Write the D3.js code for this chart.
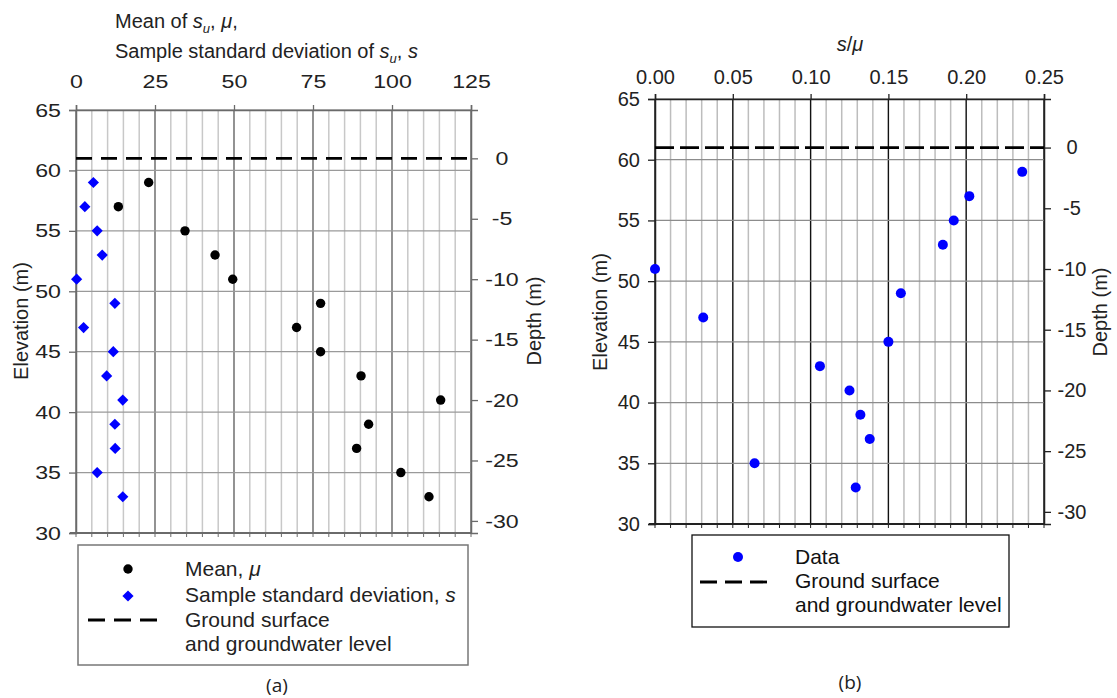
<!DOCTYPE html>
<html>
<head>
<meta charset="utf-8">
<script src="https://cdn.jsdelivr.net/npm/d3@7"></script>
<style>
  body { margin: 0; background: #fff; }
  svg text { font-family: "Liberation Sans", Arial, sans-serif; }
</style>
</head>
<body>
<svg id="chart" width="1117" height="698"></svg>
<script>
// data
const elevation = [59, 57, 55, 53, 51, 49, 47, 45, 43, 41, 39, 37, 35, 33];
const meanSu = [23, 13.4, 34.5, 44, 49.6, 77.4, 69.8, 77.4, 90.2, 115.4, 92.6, 88.8, 102.8, 111.7];
const stdSu = [5.5, 2.8, 6.7, 8.3, 0.2, 12.3, 2.4, 11.8, 9.7, 14.8, 12.3, 12.4, 6.7, 14.8];
const ratio = [0.236, 0.202, 0.192, 0.185, 0.0, 0.158, 0.031, 0.150, 0.106, 0.125, 0.132, 0.138, 0.064, 0.129];
const groundLevel = 61;

const suTicks = [0, 25, 50, 75, 100, 125];
const ratioTicks = [0, 0.05, 0.10, 0.15, 0.20, 0.25];
const elevTicks = [30, 35, 40, 45, 50, 55, 60, 65];
const depthTicks = [0, -5, -10, -15, -20, -25, -30];

const svg = d3.select("#chart");

// draws one panel: grid, axes, ground line
function panel(opt) {
    const g = svg.append("g");
    const x = opt.x, y = opt.y;
    const [x0, x1] = x.range();
    const [yb, yt] = y.range();
    const sx = opt.stretch; // tick labels of panel (a) look horizontally stretched
    const depth = d3.scaleLinear()
        .domain([y.domain()[0] - groundLevel, y.domain()[1] - groundLevel])
        .range(y.range());

    // vertical minor grid
    g.append("g").selectAll("line")
        .data(opt.minor)
        .join("line")
        .attr("x1", d => x(d)).attr("x2", d => x(d))
        .attr("y1", yt).attr("y2", yb)
        .attr("stroke", opt.minorColor)
        .attr("stroke-width", 1.5);

    // vertical major grid
    g.append("g").selectAll("line")
        .data(opt.xTicks)
        .join("line")
        .attr("x1", d => x(d)).attr("x2", d => x(d))
        .attr("y1", yt).attr("y2", yb)
        .attr("stroke", opt.majorColor)
        .attr("stroke-width", 1.3);

    // horizontal grid
    g.append("g").selectAll("line")
        .data(elevTicks)
        .join("line")
        .attr("x1", x0).attr("x2", x1)
        .attr("y1", d => y(d)).attr("y2", d => y(d))
        .attr("stroke", opt.hColor)
        .attr("stroke-width", 1.3);

    // small ticks along the bottom
    g.append("g").selectAll("line")
        .data(opt.minor)
        .join("line")
        .attr("x1", d => x(d)).attr("x2", d => x(d))
        .attr("y1", yb).attr("y2", yb + 4)
        .attr("stroke", opt.frameColor);

    // top axis
    const top = g.append("g")
        .attr("transform", `translate(0,${yt})`)
        .call(d3.axisTop(x).tickValues(opt.xTicks).tickSize(5).tickPadding(opt.topPad).tickFormat(opt.fmt));
    top.attr("font-family", null);
    top.select(".domain").attr("stroke", opt.frameColor).attr("stroke-width", 1.5);
    top.selectAll(".tick line").attr("stroke", opt.frameColor).attr("stroke-width", 1.3);
    top.selectAll("text").attr("font-size", opt.fs).attr("fill", "#222")
        .attr("transform", `scale(${sx},1)`);

    // bottom line
    g.append("line")
        .attr("x1", x0 - 6).attr("x2", x1)
        .attr("y1", yb).attr("y2", yb)
        .attr("stroke", opt.frameColor).attr("stroke-width", 2);

    // left axis elevation
    const left = g.append("g")
        .attr("transform", `translate(${x0},0)`)
        .call(d3.axisLeft(y).tickValues(elevTicks).tickSize(7).tickFormat(d => String(d)));
    left.attr("font-family", null);
    left.select(".domain").attr("stroke", opt.frameColor).attr("stroke-width", 1.5);
    left.selectAll(".tick line").attr("stroke", opt.frameColor).attr("stroke-width", 1.3);
    left.selectAll("text").attr("font-size", opt.fs).attr("fill", "#222")
        .attr("x", -15 / sx).attr("transform", `scale(${sx},1)`);

    // right axis depth (plain hyphen for the minus sign, as in the original)
    const right = g.append("g")
        .attr("transform", `translate(${x1},0)`)
        .call(d3.axisRight(depth).tickValues(depthTicks).tickSize(7).tickFormat(d => String(d)));
    right.attr("font-family", null);
    right.select(".domain").attr("stroke", opt.frameColor).attr("stroke-width", 1.5);
    right.selectAll(".tick line").attr("stroke", opt.frameColor).attr("stroke-width", 1.3);
    right.selectAll("text").attr("font-size", opt.fs).attr("fill", "#222")
        .attr("text-anchor", "middle").attr("x", opt.depthLabelDx / sx)
        .attr("transform", `scale(${sx},1)`);

    // ground surface / groundwater level
    g.append("line")
        .attr("x1", x0).attr("x2", x1)
        .attr("y1", y(groundLevel)).attr("y2", y(groundLevel))
        .attr("stroke", "#000").attr("stroke-width", 2.8)
        .attr("stroke-dasharray", opt.dash);

    // axis titles
    g.append("text")
        .attr("transform", `translate(${opt.elevTitleX},${opt.titleY}) rotate(-90)`)
        .attr("text-anchor", "middle")
        .attr("font-size", 20).attr("fill", "#222")
        .text("Elevation (m)");
    g.append("text")
        .attr("transform", `translate(${opt.depthTitleX},${opt.titleY}) rotate(-90)`)
        .attr("text-anchor", "middle")
        .attr("font-size", 20).attr("fill", "#222")
        .text("Depth (m)");

    return g;
}

// ---------- panel (a) ----------
const xa = d3.scaleLinear().domain([0, 125]).range([76, 471]);
const ya = d3.scaleLinear().domain([30, 65]).range([533, 110]);

const ga = panel({
    x: xa, y: ya,
    xTicks: suTicks,
    minor: d3.range(0, 126, 5),
    fmt: d3.format("d"),
    minorColor: "#c8c8c8", majorColor: "#6e6e6e", hColor: "#9a9a9a", frameColor: "#6a6a6a",
    dash: "16,9",
    fs: 19, stretch: 1.22, topPad: 17,
    depthLabelDx: 31,
    elevTitleX: 28, depthTitleX: 541, titleY: 321
});

const ptsA = elevation.map((e, i) => ({ e, m: meanSu[i], s: stdSu[i] }));

ga.append("g").selectAll("circle")
    .data(ptsA)
    .join("circle")
    .attr("cx", d => xa(d.m))
    .attr("cy", d => ya(d.e))
    .attr("r", 4.7)
    .attr("fill", "#000");

const diamond = d3.symbol().type(d3.symbolDiamond2).size(80);
ga.append("g").selectAll("path")
    .data(ptsA)
    .join("path")
    .attr("transform", d => `translate(${xa(d.s)},${ya(d.e)})`)
    .attr("d", diamond)
    .attr("fill", "#0000ff");

// title of panel (a)
const ta = svg.append("text").attr("x", 115).attr("y", 28).attr("font-size", 20).attr("fill", "#222");
ta.append("tspan").text("Mean of ");
ta.append("tspan").attr("font-style", "italic").text("s");
ta.append("tspan").attr("font-style", "italic").attr("font-size", 13).attr("dy", 5).text("u");
ta.append("tspan").attr("dy", -5).text(", ");
ta.append("tspan").attr("font-style", "italic").text("μ");
ta.append("tspan").text(",");

const tb = svg.append("text").attr("x", 115).attr("y", 58).attr("font-size", 20).attr("fill", "#222");
tb.append("tspan").text("Sample standard deviation of ");
tb.append("tspan").attr("font-style", "italic").text("s");
tb.append("tspan").attr("font-style", "italic").attr("font-size", 13).attr("dy", 5).text("u");
tb.append("tspan").attr("dy", -5).text(", ");
tb.append("tspan").attr("font-style", "italic").text("s");

// legend (a)
const la = svg.append("g");
la.append("rect")
    .attr("x", 78).attr("y", 545).attr("width", 390).attr("height", 120)
    .attr("fill", "#fff").attr("stroke", "#777").attr("stroke-width", 1.5);
la.append("circle").attr("cx", 128).attr("cy", 569).attr("r", 4.7).attr("fill", "#000");
la.append("path").attr("transform", "translate(128,596)").attr("d", diamond).attr("fill", "#0000ff");
la.append("line")
    .attr("x1", 88).attr("x2", 158).attr("y1", 620).attr("y2", 620)
    .attr("stroke", "#000").attr("stroke-width", 2.8).attr("stroke-dasharray", "17,9");
const laText = la.append("g").attr("font-size", 21).attr("fill", "#222");
const lm = laText.append("text").attr("x", 185).attr("y", 576);
lm.append("tspan").text("Mean, ");
lm.append("tspan").attr("font-style", "italic").text("μ");
const ls = laText.append("text").attr("x", 185).attr("y", 602);
ls.append("tspan").text("Sample standard deviation, ");
ls.append("tspan").attr("font-style", "italic").text("s");
laText.append("text").attr("x", 185).attr("y", 627).text("Ground surface");
laText.append("text").attr("x", 185).attr("y", 651).text("and groundwater level");

svg.append("text").attr("x", 277).attr("y", 692).attr("text-anchor", "middle")
    .attr("font-size", 19).style("font-family", "'Open Sans', sans-serif").attr("fill", "#222")
    .text("(a)");

// ---------- panel (b) ----------
const xb = d3.scaleLinear().domain([0, 0.25]).range([655, 1044]);
const yb = d3.scaleLinear().domain([30, 65]).range([524, 99]);

const gb = panel({
    x: xb, y: yb,
    xTicks: ratioTicks,
    minor: d3.range(0, 26).map(d => d / 100),
    fmt: d3.format(".2f"),
    minorColor: "#bdbdbd", majorColor: "#111", hColor: "#8c8c8c", frameColor: "#222",
    dash: "19,6",
    fs: 20, stretch: 1, topPad: 10,
    depthLabelDx: 28,
    elevTitleX: 607, depthTitleX: 1107, titleY: 312
});

gb.append("g").selectAll("circle")
    .data(elevation.map((e, i) => ({ e, r: ratio[i] })))
    .join("circle")
    .attr("cx", d => xb(d.r))
    .attr("cy", d => yb(d.e))
    .attr("r", 5)
    .attr("fill", "#0000ff");

const tr = svg.append("text").attr("x", 850).attr("y", 51).attr("text-anchor", "middle")
    .attr("font-size", 20).attr("fill", "#222");
tr.append("tspan").attr("font-style", "italic").text("s");
tr.append("tspan").text("/");
tr.append("tspan").attr("font-style", "italic").text("μ");

// legend (b)
const lb = svg.append("g");
lb.append("rect")
    .attr("x", 692).attr("y", 535).attr("width", 317).attr("height", 92)
    .attr("fill", "#fff").attr("stroke", "#111").attr("stroke-width", 1.3);
lb.append("circle").attr("cx", 738).attr("cy", 557).attr("r", 5).attr("fill", "#0000ff");
lb.append("line")
    .attr("x1", 700).attr("x2", 768).attr("y1", 582).attr("y2", 582)
    .attr("stroke", "#000").attr("stroke-width", 2.8).attr("stroke-dasharray", "17,8");
const lbText = lb.append("g").attr("font-size", 21).attr("fill", "#111");
lbText.append("text").attr("x", 795).attr("y", 564).text("Data");
lbText.append("text").attr("x", 795).attr("y", 588).text("Ground surface");
lbText.append("text").attr("x", 795).attr("y", 612).text("and groundwater level");

svg.append("text").attr("x", 850).attr("y", 689).attr("text-anchor", "middle")
    .attr("font-size", 19).style("font-family", "'Open Sans', sans-serif").attr("fill", "#222")
    .text("(b)");
</script>
</body>
</html>
